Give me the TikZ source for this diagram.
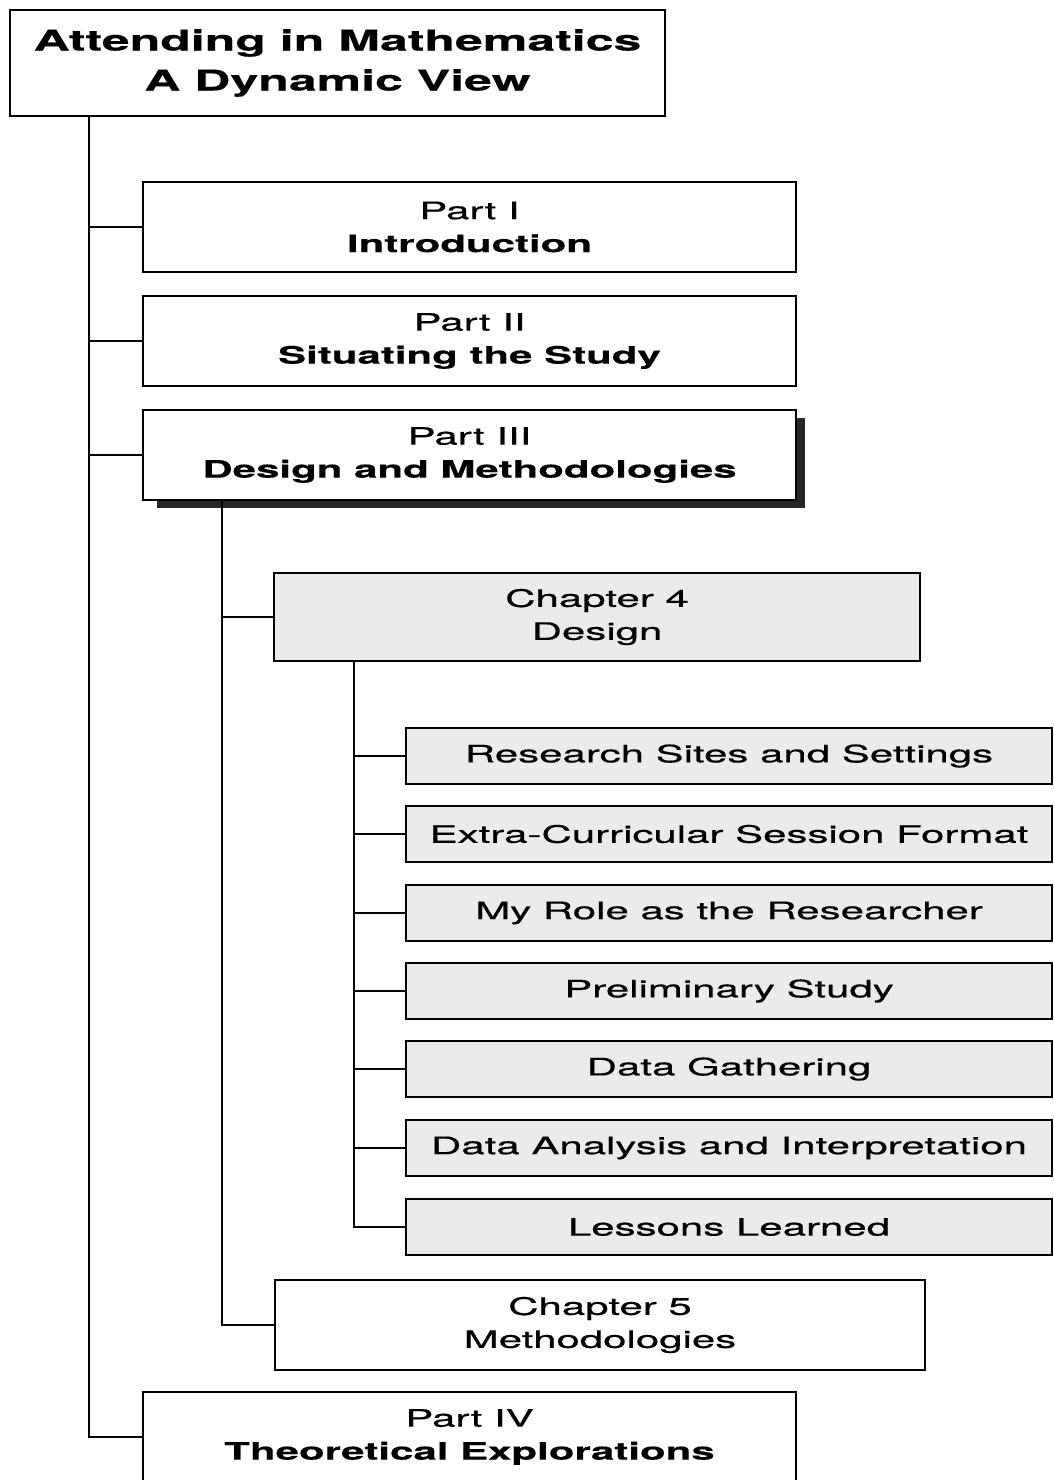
\documentclass[tikz,border=0pt]{standalone}
\usepackage{fontspec}
\setmainfont{TeX Gyre Heros}[FakeStretch=1.75, UprightFeatures={FakeBold=0.6}, BoldFeatures={FakeBold=0.3}]
\usetikzlibrary{calc}
\begin{document}
\begin{tikzpicture}[x=1pt,y=-1pt,
  box/.style={draw, line width=2.2pt, rectangle, inner sep=0pt, align=center,
    fill=white, font={\fontsize{24}{33}\selectfont}},
  titlebox/.style={box, font={\fontsize{28.6}{40}\selectfont\bfseries}},
  partbox/.style={box, minimum width=653pt, minimum height=90pt},
  chapbox/.style={box, fill=black!8, minimum height=88pt},
  secbox/.style={box, fill=black!8, minimum width=646pt, minimum height=56pt},
  link/.style={line width=2.2pt}]
\clip (0,0) rectangle (1054,1480);

% top-level title
\node[titlebox, minimum width=655pt, minimum height=106pt] (title) at (337.5,63)
  {Attending in Mathematics\\A Dynamic View};

% the four parts
\node[partbox] (p1) at (469.5,227) {Part I\\\textbf{Introduction}};
\node[partbox] (p2) at (469.5,341) {Part II\\\textbf{Situating the Study}};
\fill[black!85] (157,418) rectangle (805,508);
\node[partbox] (p3) at (469.5,455) {Part III\\\textbf{Design and Methodologies}};
\node[partbox] (p4) at (469.5,1437) {Part IV\\\textbf{Theoretical Explorations}};

% chapters of Part III
\node[chapbox, minimum width=646pt] (c4) at (597,617) {Chapter 4\\Design};
\node[box, minimum width=650pt, minimum height=90pt] (c5) at (600,1325) {Chapter 5\\Methodologies};

% sections of Chapter 4
\node[secbox] (s1) at (729,756)  {Research Sites and Settings};
\node[secbox] (s2) at (729,834)  {Extra-Curricular Session Format};
\node[secbox] (s3) at (729,913)  {My Role as the Researcher};
\node[secbox] (s4) at (729,991)  {Preliminary Study};
\node[secbox] (s5) at (729,1069) {Data Gathering};
\node[secbox] (s6) at (729,1148) {Data Analysis and Interpretation};
\node[secbox] (s7) at (729,1227) {Lessons Learned};

% trunk from the title to the parts
\draw[link] ($(title.south west)+(80,0)$) |- (p4.west);
\foreach \n in {p1,p2,p3}
  \draw[link] (\n.west) -- ++(-53,0);

% trunk from Part III to its chapters
\draw[link] ($(p3.south west)+(80,0)$) |- (c5.west);
\draw[link] (c4.west) -- ++(-51,0);

% trunk from Chapter 4 to its sections
\draw[link] ($(c4.south west)+(81,0)$) |- (s7.west);
\foreach \n in {s1,s2,s3,s4,s5,s6}
  \draw[link] (\n.west) -- ++(-51,0);
\end{tikzpicture}
\end{document}
